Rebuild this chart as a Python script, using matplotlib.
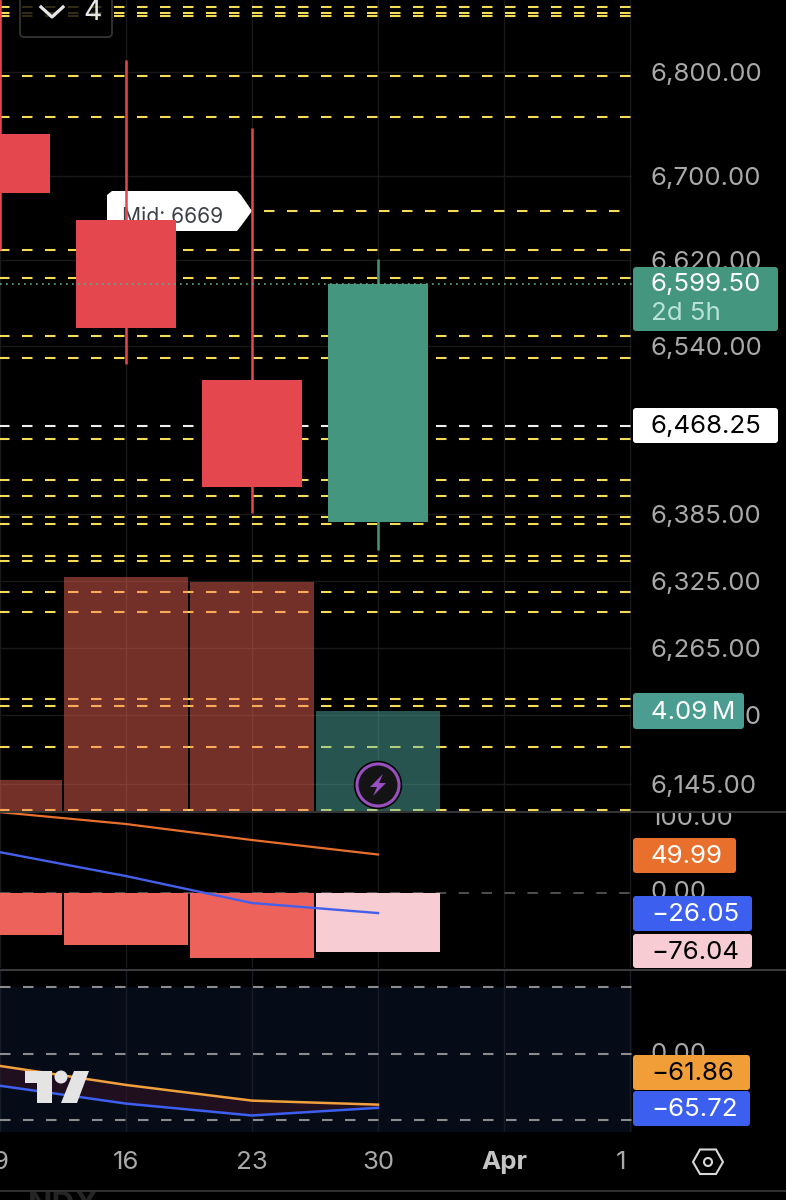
"""
Weekly candle chart with volume, MACD and oscillator panes (dark theme)
"""

import matplotlib
matplotlib.use("Agg")
import matplotlib.pyplot as plt
from matplotlib.patches import FancyBboxPatch, Polygon, Circle, Rectangle

W, H = 786, 1200
plt.rcParams['font.family'] = ['Inter', 'DejaVu Sans']

# Candles
CANDLE_X = [0, 1, 2, 3]
OPEN = [6740, 6658, 6508, 6378]
CLOSE = [6684, 6557, 6410, 6598]
HIGH = [6900, 6812, 6746, 6621]
LOW = [6630, 6523, 6386, 6353]

# Volume in millions
VOLUME = [1.27, 9.57, 9.37, 4.09]

# Dashed levels on the price scale
LEVELS = [6863, 6857, 6854, 6796, 6757, 6667, 6630, 6603, 6549, 6529, 6454, 6416,
          6402, 6383, 6376.5, 6347, 6343, 6315, 6297, 6219, 6213, 6177, 6122]
MID_LEVEL = 6667
LAST_CROSS = 6466
PRICE_TICKS = [6800, 6700, 6620, 6540, 6385, 6325, 6265, 6205, 6145]

# MACD pane
MACD_HIST = [-54.5, -67.5, -84.4, -76.04]
MACD_LINE = [105, 89.6, 68.8, 49.99]
SIGNAL_LINE = [53, 22, -13, -26.05]

# Oscillator pane
OSC_ORANGE = [-15, -38, -57, -61.86]
OSC_BLUE = [-39, -60.6, -75, -65.72]

X_TICKS = [0, 1, 2, 3, 4]
X_LABELS = ['9', '16', '23', '30', 'Apr']

# where the first dash of each level starts, in pixels
DASH_START = [14, 7, 1, 9, 6, 11, 10, 11, 16, 14, 17, 18, 13, 19, 10, 16, 11, 20, 18, 13, 19, 0, 22]

RED = '#e5474f'
GREEN = '#45967f'
YELLOW = '#f5dc58'
GRID = '#191919'
LABEL = '#a9a9a9'
PANE_R = 632
XMAX = PANE_R / 126
FS = 18.6
TXT_X = 651


def pane(top, bottom, grid=True):
    ax = fig.add_axes([0, 1 - bottom / H, PANE_R / W, (bottom - top) / H])
    ax.set_facecolor('none')
    ax.set_xlim(0, XMAX)
    ax.set_xticks([])
    ax.set_yticks([])
    for s in ax.spines.values():
        s.set_visible(False)
    if grid:
        for x in X_TICKS + [5]:
            ax.axvline(x, color=GRID, lw=1, zorder=0)
    return ax


def price_axis(a):
    a.set_yscale('log')
    a.set_ylim(6121, 6870)
    a.minorticks_off()
    a.set_yticks([])


fig = plt.figure(figsize=(W / 100, H / 100), dpi=100, facecolor='black')

# Pixel overlay for the tags and interface pieces
ui = fig.add_axes([0, 0, 1, 1], zorder=10)
ui.set_xlim(0, W)
ui.set_ylim(H, 0)
ui.axis('off')

# Levels and grid go under the volume, so the volume tints them
ax_l = pane(0, 811)
price_axis(ax_l)
ax_l.set_zorder(1)
for p in PRICE_TICKS:
    ax_l.axhline(p, color=GRID, lw=1, zorder=0)
for p, start in zip(LEVELS, DASH_START):
    x0 = (start - 23) / 126
    if p == MID_LEVEL:
        x0 = 264 / 126
    ax_l.plot([x0, XMAX], [p, p], color=YELLOW, lw=1.5, dashes=(5.04, 6), zorder=3)
ax_l.plot([-0.1, XMAX], [LAST_CROSS, LAST_CROSS], color='#eeeeee', lw=1.5, dashes=(5.04, 6), zorder=3)

# Volume
ax_vol = pane(0, 811, grid=False)
ax_vol.set_zorder(1.2)
ax_vol.bar(CANDLE_X[:3], VOLUME[:3], width=0.984, color='#ff6b5b', alpha=0.45, lw=0)
ax_vol.bar(CANDLE_X[3], VOLUME[3], width=0.984, color='#59bbb0', alpha=0.45, lw=0)
ax_vol.set_ylim(0, 811 / 24.45)

# Mid callout, behind the candles
mid = [(112, 191), (237, 191), (241, 195), (252, 211), (241, 226), (237, 231), (112, 231), (107, 227), (107, 195)]
call = fig.add_axes([0, 0, 1, 1], zorder=1.5)
call.set_xlim(0, W)
call.set_ylim(H, 0)
call.axis('off')
call.add_patch(Polygon(mid, fc='white', ec='none'))
call.text(122, 217, 'Mid: 6669', color='#3c4048', fontsize=15.2, ha='left', va='center')

# Candles
ax = pane(0, 811, grid=False)
price_axis(ax)
ax.set_zorder(2)
for x, o, c, hi, lo in zip(CANDLE_X, OPEN, CLOSE, HIGH, LOW):
    col = GREEN if c > o else RED
    ax.plot([x, x], [lo, hi], color=col, lw=1.8, zorder=6, solid_capstyle='butt')
    ax.bar(x, abs(c - o), bottom=min(o, c), width=100 / 126, color=col, zorder=7, lw=0)
ax.axhline(CLOSE[-1], color='#62a897', lw=1.2, dashes=(1, 2.6), zorder=8)

# MACD pane
ax_m = pane(811, 968)
ax_m.set_ylim(-97.4, 106.5)
ax_m.axhline(0, color='#555555', lw=1.3, dashes=(5.8, 6.9), zorder=1)
ax_m.bar(CANDLE_X[:3], MACD_HIST[:3], width=0.984, color='#ee625c', zorder=2, lw=0)
ax_m.bar(CANDLE_X[3], MACD_HIST[3], width=0.984, color='#f7ccd2', zorder=2, lw=0)
ax_m.plot(CANDLE_X, MACD_LINE, color='#e8702c', lw=1.6, zorder=3)
ax_m.plot(CANDLE_X, SIGNAL_LINE, color='#4460ea', lw=1.7, zorder=3)

# Oscillator pane
ax_o = pane(969, 1132, grid=False)
ax_o.set_ylim(-95, 102.4)
ax_o.axhspan(-95, 80, color='#060b18', zorder=0, lw=0)
for x in X_TICKS + [5]:
    ax_o.axvline(x, color='#171b26', lw=1, zorder=1)
for lev in [80, 0, -80]:
    ax_o.axhline(lev, color='#8c8c8c', lw=1.5, dashes=(5.04, 6), zorder=2)
ax_o.fill_between(CANDLE_X, OSC_ORANGE, OSC_BLUE, color='#3a1424', alpha=0.5, lw=0, zorder=2)
ax_o.plot(CANDLE_X, OSC_ORANGE, color='#f0a03c', lw=1.8, zorder=3)
ax_o.plot(CANDLE_X, OSC_BLUE, color='#3d5ff0', lw=1.8, zorder=3)

# Pane separators and footer
ui.plot([0, W], [811.5, 811.5], color='#3a3a3a', lw=1.3, zorder=5)
ui.plot([0, W], [969.5, 969.5], color='#3a3a3a', lw=1.5, zorder=5)
ui.plot([0, W], [1190.7, 1190.7], color='#333333', lw=1.3, zorder=5)
ui.text(28, 1191, 'NDX', color='#252525', fontsize=23, fontweight='bold', va='top')


def label(x, y, s, col=LABEL, z=2, ha='left', **kw):
    # va center sits high because of the comma, so nudge down
    return ui.text(x, y + 2.5, s, color=col, fontsize=FS, ha=ha, va='center', zorder=z, **kw)


# Time axis
for x, lab in zip(X_TICKS, X_LABELS):
    label(x * 126, 1160, lab, '#c4c4c4' if lab == 'Apr' else LABEL, ha='center',
          fontweight='bold' if lab == 'Apr' else 'normal')
label(621, 1160, '1', ha='center')


def price_y(p):
    # pixel row of a price, through the price axis itself
    return H - ax.transData.transform((0, p))[1]


# Price labels
for p in PRICE_TICKS:
    label(TXT_X, price_y(p), '{:,.2f}'.format(p))
t = label(TXT_X, 816, '100.00')
t.set_clip_on(True)
t.set_clip_path(Rectangle((640, 812.5), 120, 30, transform=ui.transData))
label(TXT_X, 890, '0.00')
label(TXT_X, 1052, '0.00')


def tag(x0, x1, y0, y1, col):
    ui.add_patch(FancyBboxPatch((x0 + 3, y0 + 3), x1 - x0 - 6, y1 - y0 - 6,
                                boxstyle='round,pad=3,rounding_size=3', fc=col, ec='none', zorder=3))


tag(633, 778, 267, 331, GREEN)
label(TXT_X, 282, '6,599.50', 'white', 4)
label(TXT_X, 311, '2d 5h', '#b9e3d6', 4)
tag(633, 778, 408, 443, 'white')
label(TXT_X, 424, '6,468.25', 'black', 4)
tag(633, 744, 693, 729, '#4a9d90')
label(TXT_X, 710, '4.09\u2009M', 'white', 4)
tag(633, 736, 838, 873, '#e8702c')
label(TXT_X, 854, '49.99', 'white', 4)
tag(633, 752, 896, 931, '#3d5ff0')
label(TXT_X, 912, '\u221226.05', 'white', 4)
tag(633, 752, 934, 968, '#f7ccd2')
label(TXT_X, 950, '\u221276.04', 'black', 4)
tag(633, 750, 1055, 1090, '#f19d38')
label(TXT_X, 1071, '\u221261.86', 'black', 4)
tag(633, 750, 1091, 1126, '#3d5ff0')
label(TXT_X, 1107, '\u221265.72', 'white', 4)

# Dropdown box at the top left
ui.add_patch(FancyBboxPatch((23, -10), 86, 44, boxstyle='round,pad=3,rounding_size=4',
                            fc=(0, 0, 0, 0.8), ec='#333333', lw=1.3, zorder=3))
ui.plot([41, 52, 63], [7, 17, 7], color='#e6e6e6', lw=2.3, zorder=4)
ui.text(93, 13, '4', color='#e6e6e6', fontsize=20.5, ha='center', va='center', zorder=4)

# Lightning badge
ui.add_patch(Circle((378, 785), 23.5, fc='#141414', ec='black', lw=1))
ui.add_patch(Circle((378, 785), 21, fc='#141414', ec='#9a4fc0', lw=2.2))
ui.add_patch(Polygon([(383, 774), (370, 787), (377, 787), (373, 796), (386, 783), (379, 783)], fc='#9a4fc0', ec='none'))

# Logo
ui.add_patch(Polygon([(25, 1071), (52, 1071), (52, 1103), (37, 1103), (37, 1083), (25, 1083)], fc='#e4e4e4', ec='none'))
ui.add_patch(Circle((61, 1077), 6.5, fc='#e4e4e4', ec='none'))
ui.add_patch(Polygon([(74, 1071), (89, 1071), (77, 1103), (61, 1103)], fc='#e4e4e4', ec='none'))

# Settings hexagon
ui.add_patch(Polygon([(693, 1162), (700, 1149.5), (716, 1149.5), (723, 1162), (716, 1174), (700, 1174)],
                     fc='none', ec='#d8d8d8', lw=1.5))
ui.add_patch(Circle((708, 1162), 4, fc='none', ec='#d8d8d8', lw=1.5))

fig.savefig('out.png', dpi=100, facecolor='black')
